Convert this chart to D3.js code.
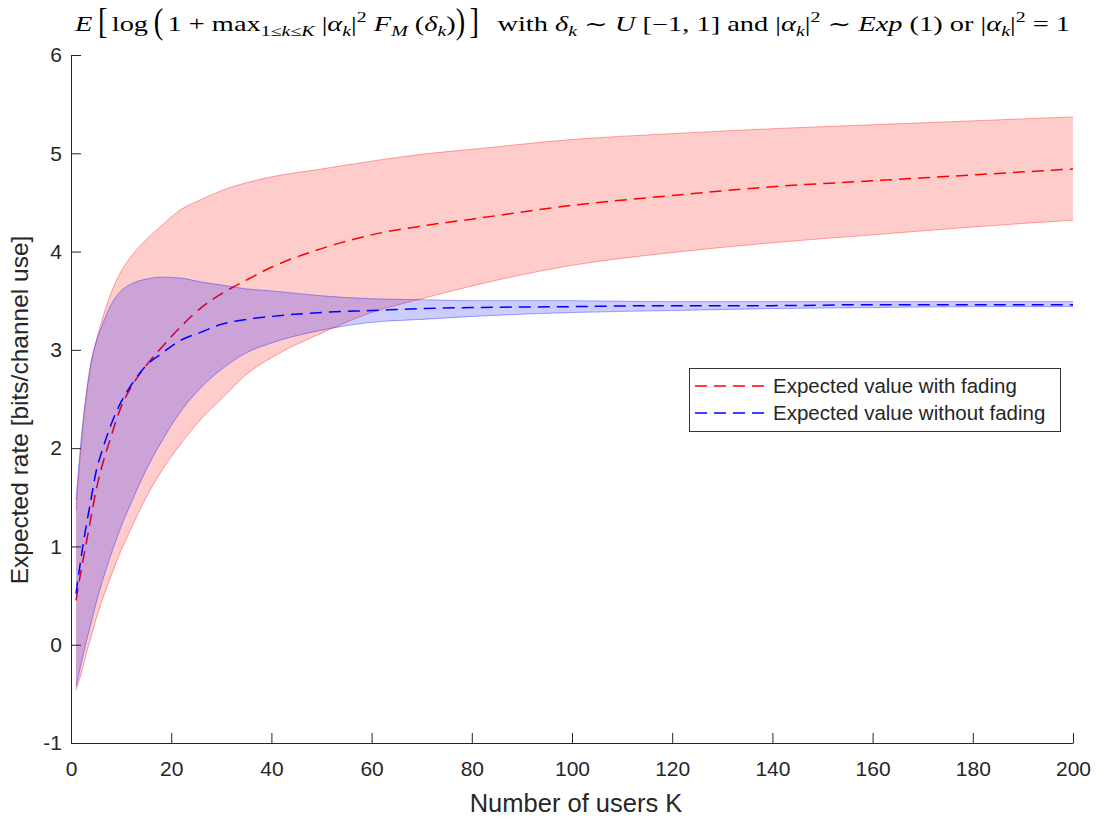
<!DOCTYPE html>
<html>
<head>
<meta charset="utf-8">
<script src="https://cdn.jsdelivr.net/npm/d3@7"></script>
<style>
  html, body { margin: 0; padding: 0; background: #fff; }
  svg { display: block; }
</style>
</head>
<body>
<svg id="chart" width="1096" height="820"></svg>
<script>
// ---- data ----
const K = [1,2,3,4,5,6,8,10,12,15,18,22,26,30,35,40,50,60,70,80,100,120,140,160,180,200];
const fadHi   = [1.37,2.0,2.5,2.85,3.08,3.27,3.58,3.8,3.95,4.12,4.26,4.43,4.53,4.62,4.70,4.76,4.84,4.92,4.99,5.04,5.14,5.20,5.25,5.29,5.33,5.37];
const fadMean = [0.45,0.75,1.02,1.3,1.57,1.78,2.12,2.42,2.62,2.84,3.02,3.24,3.43,3.57,3.71,3.84,4.03,4.17,4.26,4.33,4.47,4.57,4.66,4.72,4.78,4.84];
const fadLo   = [-0.46,-0.3,-0.1,0.08,0.26,0.42,0.7,0.96,1.18,1.5,1.76,2.05,2.3,2.5,2.75,2.92,3.17,3.38,3.52,3.65,3.86,3.99,4.09,4.17,4.25,4.32];
const nfHi    = [1.47,2.08,2.54,2.88,3.08,3.22,3.46,3.6,3.67,3.72,3.74,3.73,3.69,3.66,3.62,3.6,3.55,3.52,3.51,3.5,3.5,3.49,3.49,3.49,3.49,3.49];
const nfMean  = [0.52,0.88,1.2,1.48,1.76,1.94,2.24,2.47,2.64,2.84,2.96,3.1,3.18,3.26,3.31,3.34,3.38,3.4,3.42,3.43,3.44,3.45,3.45,3.46,3.46,3.46];
const nfLo    = [-0.43,-0.2,0.02,0.22,0.42,0.6,0.92,1.2,1.44,1.78,2.06,2.38,2.62,2.8,2.97,3.07,3.2,3.28,3.31,3.34,3.38,3.4,3.42,3.43,3.44,3.44];

const xTicks = [0,20,40,60,80,100,120,140,160,180,200];
const yTicks = [-1,0,1,2,3,4,5,6];
const legendLabels = ["Expected value with fading", "Expected value without fading"];
const xLabel = "Number of users K";
const yLabel = "Expected rate [bits/channel use]";

// ---- setup ----
const svg = d3.select("#chart");
const L = 71, R = 1073, T = 55, B = 743;
const x = d3.scaleLinear().domain([0, 200]).range([L, R]);
const y = d3.scaleLinear().domain([-1, 6]).range([B, T]);
const axisColor = "#262626";
const sansFont = "'Liberation Sans', Arial, Helvetica, sans-serif";

const rows = K.map((k, i) => ({k, fh: fadHi[i], fm: fadMean[i], fl: fadLo[i], nh: nfHi[i], nm: nfMean[i], nl: nfLo[i]}));
const curve = d3.curveMonotoneX;

function band(hiKey, loKey, fill, edge) {
  const area = d3.area().curve(curve).x(d => x(d.k)).y0(d => y(d[loKey])).y1(d => y(d[hiKey]));
  svg.append("path").datum(rows).attr("d", area).attr("fill", fill).attr("fill-opacity", 0.2).attr("stroke", "none");
  [hiKey, loKey].forEach(key => {
    const ln = d3.line().curve(curve).x(d => x(d.k)).y(d => y(d[key]));
    svg.append("path").datum(rows).attr("d", ln).attr("fill", "none")
      .attr("stroke", edge).attr("stroke-opacity", 0.35).attr("stroke-width", 1);
  });
}
function meanLine(key, color) {
  const ln = d3.line().curve(curve).x(d => x(d.k)).y(d => y(d[key]));
  svg.append("path").datum(rows).attr("d", ln).attr("fill", "none")
    .attr("stroke", color).attr("stroke-width", 1.5).attr("stroke-dasharray", "12,7");
}

band("fh", "fl", "#ff0000", "#ff0000");
meanLine("fm", "#ff0000");
band("nh", "nl", "#0000ff", "#0000ff");
meanLine("nm", "#0000ff");

// ---- axes ----
const xAxis = svg.append("g").attr("transform", `translate(0,${B})`)
  .call(d3.axisBottom(x).tickValues(xTicks).tickFormat(d => String(d)).tickSizeInner(-10).tickSizeOuter(0).tickPadding(18));
const yAxis = svg.append("g").attr("transform", `translate(${L},0)`)
  .call(d3.axisLeft(y).tickValues(yTicks).tickFormat(d => String(d)).tickSizeInner(-10).tickSizeOuter(0).tickPadding(9));
[xAxis, yAxis].forEach(g => {
  g.selectAll("path.domain").attr("stroke", axisColor).attr("stroke-width", 1);
  g.selectAll(".tick line").attr("stroke", axisColor).attr("stroke-width", 1);
  g.selectAll(".tick text").attr("fill", axisColor).style("font-family", sansFont).style("font-size", "21px");
});

svg.append("text").attr("x", (L + R) / 2 + 4).attr("y", 812).attr("text-anchor", "middle")
  .style("font-family", sansFont).style("font-size", "25.5px").attr("fill", axisColor).text(xLabel);
svg.append("text").attr("transform", `translate(28,410) rotate(-90)`).attr("text-anchor", "middle")
  .style("font-family", sansFont).style("font-size", "24.5px").attr("fill", axisColor).text(yLabel);

// ---- legend ----
const lg = svg.append("g");
lg.append("rect").attr("x", 689.5).attr("y", 368.5).attr("width", 371).attr("height", 63)
  .attr("fill", "#fff").attr("stroke", "#333").attr("stroke-width", 1);
const legendColors = ["#ff0000", "#0000ff"];
legendLabels.forEach((lab, i) => {
  const cy = 386 + i * 27;
  lg.append("line").attr("x1", 695).attr("x2", 765).attr("y1", cy).attr("y2", cy)
    .attr("stroke", legendColors[i]).attr("stroke-width", 1.5).attr("stroke-dasharray", "12,7");
  lg.append("text").attr("x", 773).attr("y", cy + 7).style("font-family", sansFont)
    .style("font-size", "20.5px").attr("fill", axisColor).text(lab);
});

// ---- title (LaTeX-like) ----
const serif = "'Liberation Serif', 'DejaVu Serif', 'Times New Roman', serif";
const pieces = [
  {t: "E", i: 1}, {t: "\u2009"}, {t: "[", big: 1}, {t: "log"}, {t: "\u2009"}, {t: "(", big: 1},
  {t: "1 + max"}, {t: "1", sub: 1}, {t: "\u2264", sub: 1}, {t: "k", sub: 1, i: 1}, {t: "\u2264", sub: 1}, {t: "K", sub: 1, i: 1},
  {t: " |"}, {t: "\u03b1", i: 1}, {t: "k", sub: 1, i: 1}, {t: "|"}, {t: "2", sup: 1}, {t: " "},
  {t: "F", i: 1}, {t: "M", sub: 1, i: 1}, {t: " ("}, {t: "\u03b4", i: 1}, {t: "k", sub: 1, i: 1}, {t: ")"},
  {t: ")", big: 1}, {t: "]", big: 1},
  {t: "  with "}, {t: "\u03b4", i: 1}, {t: "k", sub: 1, i: 1}, {t: " \u223c "}, {t: "U", i: 1}, {t: " [\u22121, 1]"},
  {t: " and |"}, {t: "\u03b1", i: 1}, {t: "k", sub: 1, i: 1}, {t: "|"}, {t: "2", sup: 1}, {t: " \u223c "},
  {t: "Exp", i: 1}, {t: " (1)"}, {t: " or |"}, {t: "\u03b1", i: 1}, {t: "k", sub: 1, i: 1}, {t: "|"}, {t: "2", sup: 1}, {t: " = 1"}
];
const titleInner = svg.append("g").attr("transform", "translate(75,31)").append("g");
function renderTitle(fs) {
  titleInner.selectAll("*").remove();
  let cx = 0;
  const base = 0;
  pieces.forEach(p => {
    const size = (p.sub || p.sup) ? fs * 0.7 : fs;
    let yy = base;
    if (p.sub) yy = base + fs * 0.25;
    if (p.sup) yy = base - fs * 0.45;
    const txt = titleInner.append("text")
      .style("font-family", serif).style("font-size", size + "px")
      .style("font-style", p.i ? "italic" : "normal")
      .attr("fill", "#000").attr("xml:space", "preserve").style("white-space", "pre")
      .text(p.t);
    if (p.big) {
      const s = 1.8;
      txt.attr("transform", `translate(${cx},${base - 6.5}) scale(1,${s}) translate(0,${0.235 * fs})`);
      cx += txt.node().getComputedTextLength() + fs * 0.15;
    } else {
      txt.attr("x", cx).attr("y", yy);
      cx += txt.node().getComputedTextLength();
    }
  });
  return cx;
}
const w = renderTitle(20);
titleInner.attr("transform", `scale(${995 / w},1)`);
</script>
</body>
</html>
